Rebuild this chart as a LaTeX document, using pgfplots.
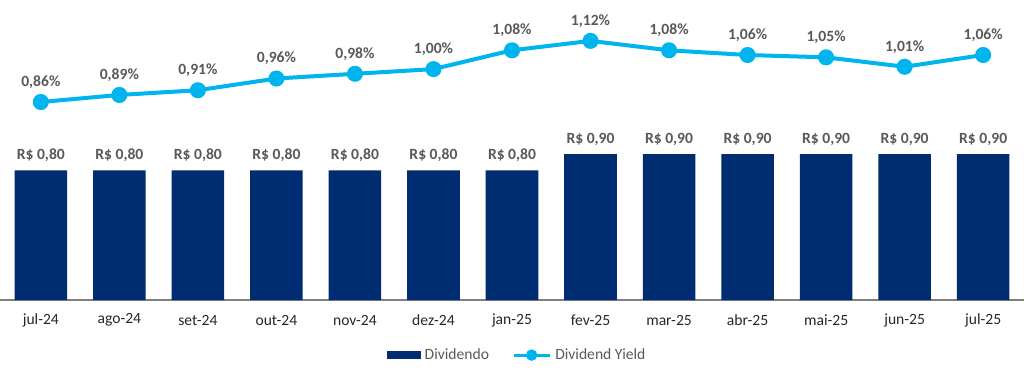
\documentclass[border=0pt]{standalone}
\usepackage{pgfplots}
\pgfplotsset{compat=1.18}
\usepackage{fontspec}
\setmainfont{Carlito}
\definecolor{barblue}{HTML}{002D72}
\definecolor{lineblue}{HTML}{00B4EE}
\definecolor{lblgray}{HTML}{595959}
\definecolor{tickgray}{HTML}{262626}
\definecolor{axgray}{HTML}{808080}
\pgfkeys{/pgf/number format/assume math mode=true}
\begin{document}
\begin{tikzpicture}
\begin{axis}[
  at={(0,0)}, anchor=south west,
  scale only axis, width=512pt, height=145pt,
  xmin=-0.52, xmax=12.52, ymin=0, ymax=1.79,
  axis y line=none, axis x line*=bottom,
  x axis line style={draw=axgray, line width=0.6pt, -},
  xtick={0,...,12},
  xticklabels={jul-24,ago-24,set-24,out-24,nov-24,dez-24,jan-25,fev-25,mar-25,abr-25,mai-25,jun-25,jul-25},
  major tick length=0pt,
  xticklabel style={font=\fontsize{7.8}{9}\selectfont, text=tickgray, anchor=center, yshift=-10pt},
  ybar, bar width=26.3pt, bar shift=0pt,
  nodes near coords={R\$ \pgfmathprintnumber[assume math mode=true,fixed,fixed zerofill,precision=2,use comma]{\pgfplotspointmeta}},
  every node near coord/.append style={font=\bfseries\fontsize{7.8}{9}\selectfont, text=lblgray, anchor=center, yshift=7.5pt},
  clip=false,
]
\addplot[fill=barblue, draw=none] coordinates {
(0,0.80) (1,0.80) (2,0.80) (3,0.80) (4,0.80) (5,0.80) (6,0.80)
(7,0.90) (8,0.90) (9,0.90) (10,0.90) (11,0.90) (12,0.90)};
\end{axis}
\begin{axis}[
  at={(0,0)}, anchor=south west,
  scale only axis, width=512pt, height=145pt,
  xmin=-0.52, xmax=12.52, ymin=0.0174, ymax=1.2515,
  hide axis, clip=false,
  nodes near coords={\pgfmathprintnumber[assume math mode=true,fixed,fixed zerofill,precision=2,use comma]{\pgfplotspointmeta}\%},
  every node near coord/.append style={font=\bfseries\fontsize{7.8}{9}\selectfont, text=lblgray, anchor=center, yshift=10pt},
  legend style={at={(0.506,-0.19)}, anchor=center, draw=none, fill=none,
    font=\fontsize{7.8}{9}\selectfont, text=lblgray, legend columns=2,
    /tikz/every even column/.append style={column sep=9.5pt},
    inner sep=0pt, row sep=0pt},
  legend cell align=left,
]
\addlegendimage{legend image code/.code={\fill[barblue] (0pt,-1.75pt) rectangle (16.5pt,1.75pt);}}
\addlegendentry{Dividendo}
\addplot[color=lineblue, line width=2pt, mark=*, mark size=3pt, mark options={fill=lineblue, draw=lineblue},
  legend image code/.code={\draw[lineblue, line width=1.6pt] (0pt,0pt) -- (18pt,0pt); \fill[lineblue] (9pt,0pt) circle (1.8pt);}]
coordinates {
(0,0.86) (1,0.89) (2,0.91) (3,0.96) (4,0.98) (5,1.00) (6,1.08)
(7,1.12) (8,1.08) (9,1.06) (10,1.05) (11,1.01) (12,1.06)};
\addlegendentry{Dividend Yield}
\end{axis}
\pgfresetboundingbox
\path[use as bounding box] (0,-35pt) rectangle (512pt,150pt);
\end{tikzpicture}
\end{document}
